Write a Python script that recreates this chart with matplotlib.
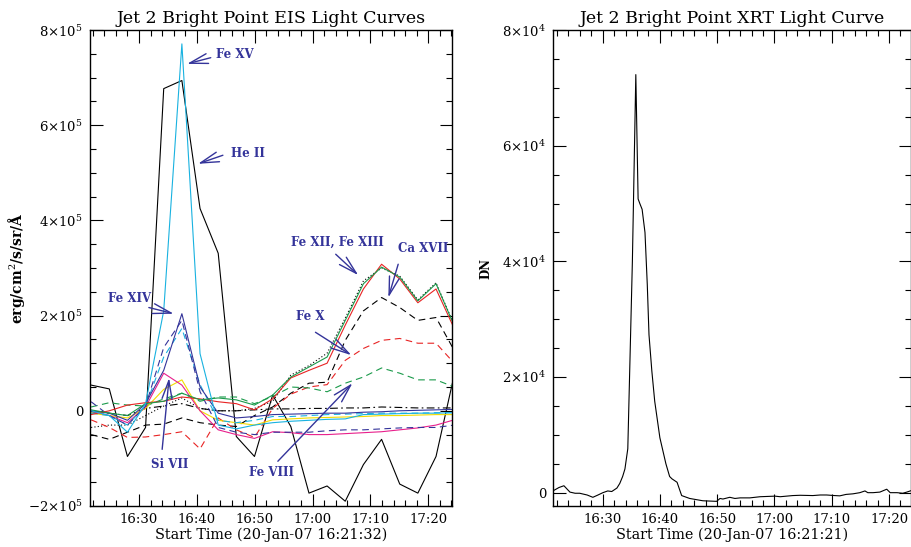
import numpy as np
import matplotlib.pyplot as plt
from matplotlib.ticker import MultipleLocator, FuncFormatter

plt.rcParams['font.family'] = ['DejaVu Serif']
plt.rcParams['mathtext.fontset'] = 'dejavuserif'

# EIS raster times (minutes after 16:00)
eis_time = [21.72, 24.86, 28.0, 31.13, 34.27, 37.41, 40.55, 43.69, 46.82, 49.96, 53.1,
            56.24, 59.38, 62.51, 65.65, 68.79, 71.93, 75.07, 78.2, 81.34, 84.48]

# EIS intensities, units of 1e5 erg/cm^2/s/sr/A
he_ii = [0.54, 0.46, -0.96, -0.35, 6.77, 6.94, 4.25, 3.31, -0.54, -0.96, 0.33,
         -0.33, -1.73, -1.58, -1.90, -1.13, -0.60, -1.54, -1.73, -0.96, 0.75]
fe_xv = [0.0, -0.1, -0.45, 0.15, 2.1, 7.71, 1.2, -0.3, -0.38, -0.3, -0.25,
         -0.22, -0.2, -0.18, -0.17, -0.08, -0.07, -0.06, -0.05, -0.05, -0.04]
fe_xiv = [0.0, -0.05, -0.2, 0.15, 0.85, 2.04, 0.5, -0.05, -0.15, -0.12, -0.08,
          -0.07, -0.06, -0.05, -0.05, -0.03, -0.02, 0.0, 0.01, 0.02, 0.03]
navy_dashed = [0.19, -0.1, -0.3, 0.1, 1.33, 1.9, 0.4, -0.35, -0.45, -0.5, -0.45,
               -0.45, -0.45, -0.42, -0.4, -0.4, -0.38, -0.36, -0.35, -0.35, -0.3]
cyan_dashed = [-0.05, -0.1, -0.3, 0.1, 1.13, 1.73, 0.55, -0.2, -0.25, -0.2, -0.12,
               -0.12, -0.1, -0.08, -0.07, -0.06, -0.05, -0.05, -0.05, -0.04, -0.04]
si_vii = [0.0, -0.1, -0.25, 0.08, 0.79, 0.54, 0.0, -0.4, -0.5, -0.58, -0.44,
          -0.46, -0.5, -0.5, -0.48, -0.46, -0.44, -0.4, -0.36, -0.3, -0.19]
yellow_line = [-0.05, -0.1, -0.15, 0.05, 0.45, 0.65, 0.0, -0.2, -0.25, -0.3, -0.19,
               -0.17, -0.15, -0.14, -0.13, -0.12, -0.1, -0.1, -0.09, -0.08, -0.08]
fe_xii = [0.02, -0.05, -0.1, 0.15, 0.2, 0.37, 0.23, 0.27, 0.23, 0.12, 0.33,
          0.71, 0.92, 1.13, 1.9, 2.67, 3.02, 2.81, 2.31, 2.67, 1.79]
fe_xiii = [-0.08, 0.0, 0.12, 0.17, 0.2, 0.29, 0.25, 0.19, 0.15, 0.02, 0.25,
           0.69, 0.85, 1.0, 1.8, 2.56, 3.08, 2.77, 2.27, 2.56, 1.73]
black_dotted = [-0.35, -0.3, -0.3, -0.1, 0.1, 0.27, 0.05, 0.0, 0.0, 0.05, 0.2,
                0.75, 0.95, 1.21, 1.95, 2.73, 3.0, 2.83, 2.33, 2.69, 1.8]
ca_xvii = [-0.5, -0.6, -0.45, -0.3, -0.28, -0.15, -0.25, -0.3, -0.33, -0.1, 0.08,
           0.37, 0.58, 0.6, 1.48, 2.1, 2.38, 2.17, 1.9, 1.96, 1.27]
fe_x = [-0.19, -0.35, -0.56, -0.55, -0.5, -0.44, -0.8, -0.15, -0.4, -0.56, 0.05,
        0.35, 0.5, 0.55, 1.06, 1.31, 1.48, 1.52, 1.42, 1.42, 1.0]
fe_viii = [0.08, 0.17, 0.12, 0.1, 0.25, 0.37, 0.2, 0.29, 0.29, 0.15, 0.3,
           0.5, 0.48, 0.4, 0.58, 0.71, 0.9, 0.79, 0.65, 0.65, 0.5]
black_dashdot = [-0.02, -0.05, -0.1, 0.05, 0.1, 0.15, 0.05, 0.0, 0.0, 0.02, 0.04,
                 0.04, 0.05, 0.05, 0.06, 0.06, 0.08, 0.07, 0.06, 0.06, 0.06]

# XRT light curve (minutes after 16:00, DN)
xrt_time = [21.5, 22.4, 23.25, 24.3, 25.2, 26.0, 27.3, 28.3, 29.2, 30.05, 30.9, 31.6,
            32.5, 33.0, 33.5, 33.9, 34.4, 35.2, 35.8, 36.2, 36.5, 36.9, 37.4, 37.8,
            38.1, 38.6, 39.1, 40.0, 41.05, 41.7, 42.1, 43.0, 43.8, 45.2, 47.5, 49.9,
            50.5, 51.0, 52.2, 53.1, 54.0, 55.7, 57.5, 60.1, 61.0, 63.2, 64.5, 66.7,
            68.0, 69.1, 70.5, 71.4, 72.5, 73.7, 74.9, 75.8, 76.3, 77.2, 78.4, 79.6,
            80.2, 81.4, 82.4, 83.1, 84.0]
xrt_dn = [400, 900, 1200, 100, -100, -100, -400, -800, -400, 0, 300, 200,
          800, 1600, 2800, 4100, 7600, 40000, 72300, 50800, 50000, 49000, 45000, 36000,
          27300, 21000, 15800, 9500, 5000, 2800, 2400, 1800, -500, -1000, -1400, -1500,
          -1000, -1100, -800, -1000, -900, -900, -700, -600, -700, -500, -450, -500,
          -400, -400, -500, -550, -300, -200, 0, 300, 0, 0, 100, 600,
          0, 0, -100, 100, 400]

navy = '#34349a'
cyan = '#19b2e0'


def time_fmt(v, pos):
    m = int(round(v))
    return '%d:%02d' % (16 + m // 60, m % 60)


def sci_fmt(exp):
    def f(v, pos):
        if abs(v) < 1e-9:
            return '0'
        return r'$%d{\times}10^{%d}$' % (round(v / 10 ** exp), exp)
    return FuncFormatter(f)


def style_axis(ax, exp, major, minor):
    ax.xaxis.set_major_locator(MultipleLocator(10))
    ax.xaxis.set_minor_locator(MultipleLocator(2))
    ax.xaxis.set_major_formatter(FuncFormatter(time_fmt))
    ax.yaxis.set_major_locator(MultipleLocator(major))
    ax.yaxis.set_minor_locator(MultipleLocator(minor))
    ax.yaxis.set_major_formatter(sci_fmt(exp))
    ax.tick_params(which='both', direction='in', top=True, right=True, width=0.8)
    ax.tick_params(which='major', length=9, labelsize=9.5, pad=5)
    ax.tick_params(which='minor', length=4.5)
    for s in ax.spines.values():
        s.set_linewidth(1.0)


fig = plt.figure(figsize=(9.12, 5.47), dpi=100)
ax1 = fig.add_axes([0.0987, 0.075, 0.3969, 0.870])
ax2 = fig.add_axes([0.6064, 0.075, 0.3926, 0.870])

t = np.array(eis_time)
lw = 0.8
ax1.plot(t, np.array(he_ii) * 1e5, color='black', lw=lw)
ax1.plot(t, np.array(black_dashdot) * 1e5, color='black', lw=lw, ls=(0, (7, 3, 1.5, 3)))
ax1.plot(t, np.array(black_dotted) * 1e5, color='black', lw=lw, ls=(0, (1, 2)))
ax1.plot(t, np.array(ca_xvii) * 1e5, color='black', lw=lw, ls=(0, (6, 4)))
ax1.plot(t, np.array(fe_x) * 1e5, color='#e82424', lw=lw, ls=(0, (6, 4)))
ax1.plot(t, np.array(fe_viii) * 1e5, color='#1a9a4a', lw=lw, ls=(0, (6, 4)))
ax1.plot(t, np.array(yellow_line) * 1e5, color='#f2dc00', lw=lw)
ax1.plot(t, np.array(si_vii) * 1e5, color='#e8208c', lw=lw)
ax1.plot(t, np.array(cyan_dashed) * 1e5, color=cyan, lw=lw, ls=(0, (6, 4)))
ax1.plot(t, np.array(navy_dashed) * 1e5, color=navy, lw=lw, ls=(0, (6, 4)))
ax1.plot(t, np.array(fe_xiv) * 1e5, color=navy, lw=lw)
ax1.plot(t, np.array(fe_xiii) * 1e5, color='#e82424', lw=lw)
ax1.plot(t, np.array(fe_xii) * 1e5, color='#1a9a4a', lw=lw)
ax1.plot(t, np.array(fe_xv) * 1e5, color=cyan, lw=lw)

ax1.set_xlim(21.53, 84.1)
ax1.set_ylim(-2e5, 8e5)
style_axis(ax1, 5, 2e5, 5e4)
ax1.set_title('Jet 2 Bright Point EIS Light Curves', fontsize=12.5, pad=5)
ax1.set_xlabel('Start Time (20-Jan-07 16:21:32)', fontsize=10.4)
ax1.xaxis.set_label_coords(0.5, -0.045)
ax1.set_ylabel('erg/cm$^2$/s/sr/$\\mathbf{\\AA}$', fontsize=10, fontweight='bold')
ax1.yaxis.set_label_coords(-0.175, 0.5)

# line labels with arrows: (text, text pos, arrow tail, arrow tip)
labels = [
    ('Fe XV', (43.3, 7.48e5), (42.4, 7.42e5), (38.3, 7.29e5)),
    ('He II', (45.9, 5.40e5), (44.5, 5.37e5), (40.2, 5.19e5)),
    ('Fe XII, Fe XIII', (56.2, 3.54e5), (64.0, 3.29e5), (67.9, 2.85e5)),
    ('Ca XVII', (74.8, 3.40e5), (74.8, 3.08e5), (73.1, 2.38e5)),
    ('Fe X', (57.2, 1.98e5), (60.5, 1.65e5), (66.7, 1.17e5)),
    ('Fe XIV', (24.7, 2.35e5), (31.7, 2.17e5), (36.0, 2.04e5)),
    ('Si VII', (32.1, -1.13e5), (34.0, -0.81e5), (35.2, 0.69e5)),
    ('Fe VIII', (49.0, -1.29e5), (54.0, -1.06e5), (66.9, 0.58e5)),
]
for txt, pos, tail, tip in labels:
    ax1.text(pos[0], pos[1], txt, color=navy, fontsize=8.5, fontweight='bold',
             ha='left', va='center')
    ax1.annotate('', xy=tip, xytext=tail,
                 arrowprops=dict(arrowstyle='->,head_length=1.1,head_width=0.3',
                                 color=navy, lw=1.0, shrinkA=0, shrinkB=0,
                                 mutation_scale=12))

ax2.plot(xrt_time, xrt_dn, color='black', lw=0.8)
ax2.set_xlim(21.35, 83.85)
ax2.set_ylim(-2300, 80000)
style_axis(ax2, 4, 2e4, 5e3)
ax2.set_title('Jet 2 Bright Point XRT Light Curve', fontsize=12.5, pad=5)
ax2.set_xlabel('Start Time (20-Jan-07 16:21:21)', fontsize=10.4)
ax2.xaxis.set_label_coords(0.5, -0.045)
ax2.set_ylabel('DN', fontsize=8.5, fontweight='bold')
ax2.yaxis.set_label_coords(-0.168, 0.5)

fig.savefig('out.png', dpi=100)
